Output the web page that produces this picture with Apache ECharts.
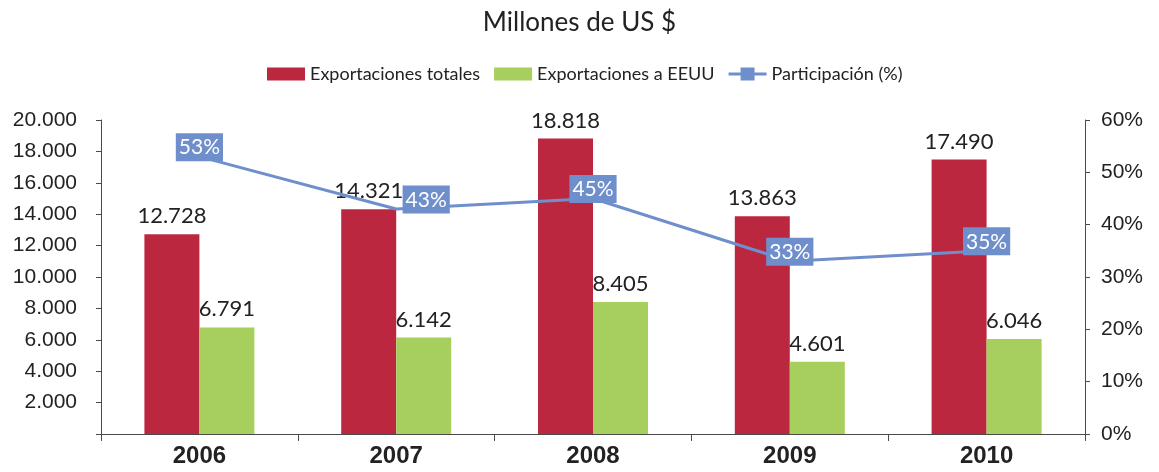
<!DOCTYPE html>
<html>
<head>
<meta charset="utf-8">
<script src="https://cdn.jsdelivr.net/npm/echarts@6/dist/echarts.min.js"></script>
<style>
html,body{margin:0;padding:0;background:#fff;}
#c{width:1159px;height:472px;}
</style>
</head>
<body>
<div id="c"></div>
<script>
const categories = ['2006', '2007', '2008', '2009', '2010'];
const exportTotal = [12728, 14321, 18818, 13863, 17490];
const exportUSA = [6791, 6142, 8405, 4601, 6046];
const participation = [53, 43, 45, 33, 35];
const seriesNames = ['Exportaciones totales', 'Exportaciones a EEUU', 'Participación (%)'];

function dots(v) {
  return String(v).replace(/\B(?=(\d{3})+(?!\d))/g, '.');
}

const chart = echarts.init(document.getElementById('c'));
const lato = 'Lato, "Liberation Sans", sans-serif';
const regular = '"Liberation Sans", Arial, sans-serif';
const axisColor = '#4a4a4a';

// the 2007 share label sits to the right of its point in the reference (clear of the bar label)
const participationData = participation.map(function (v, i) {
  return i === 1 ? { value: v, label: { offset: [30, 5] } } : v;
});

chart.setOption({
  animation: false,
  backgroundColor: '#ffffff',
  title: {
    text: 'Millones de US $',
    left: 'center',
    top: 5,
    textStyle: { fontFamily: lato, fontSize: 26, fontWeight: 'normal', color: '#222' }
  },
  legend: {
    left: 267,
    top: 65,
    padding: 0,
    itemWidth: 38,
    itemHeight: 13,
    itemGap: 14,
    textStyle: { fontFamily: lato, fontSize: 18, color: '#222' },
    data: [
      { name: seriesNames[0], icon: 'rect' },
      { name: seriesNames[1], icon: 'rect' },
      { name: seriesNames[2], icon: 'path://M0,5H38V8H0Z M12,0H26V13H12Z' }
    ]
  },
  grid: { left: 101, right: 74, top: 120, bottom: 38 },
  xAxis: {
    type: 'category',
    data: categories,
    axisLine: { lineStyle: { color: axisColor, width: 1 } },
    axisTick: { show: true, length: 7, lineStyle: { color: axisColor } },
    axisLabel: { fontFamily: regular, fontSize: 24, fontWeight: 'bold', color: '#222', margin: 10 }
  },
  yAxis: [
    {
      type: 'value',
      min: 0, max: 20000, interval: 2000,
      splitLine: { show: false },
      axisLine: { show: true, lineStyle: { color: axisColor } },
      axisTick: { show: true, length: 5, lineStyle: { color: axisColor } },
      axisLabel: {
        fontFamily: regular, fontSize: 21, color: '#222', margin: 24,
        formatter: function (v) { return v === 0 ? '' : dots(v); }
      }
    },
    {
      type: 'value',
      min: 0, max: 60, interval: 10,
      splitLine: { show: false },
      axisLine: { show: true, lineStyle: { color: axisColor } },
      axisTick: { show: true, length: 5, lineStyle: { color: axisColor } },
      axisLabel: { fontFamily: regular, fontSize: 21, color: '#222', margin: 16, formatter: '{value}%' }
    }
  ],
  series: [
    {
      name: seriesNames[0],
      type: 'bar',
      data: exportTotal,
      barWidth: 55,
      barGap: '0%',
      itemStyle: { color: '#BC2740' },
      label: {
        show: true, position: 'top', distance: 7,
        fontFamily: lato, fontSize: 22, color: '#222',
        formatter: function (p) { return dots(p.value); }
      }
    },
    {
      name: seriesNames[1],
      type: 'bar',
      data: exportUSA,
      barWidth: 55,
      barGap: '0%',
      itemStyle: { color: '#A6CF5E' },
      label: {
        show: true, position: 'top', distance: 7,
        fontFamily: lato, fontSize: 22, color: '#222',
        formatter: function (p) { return dots(p.value); }
      }
    },
    {
      name: seriesNames[2],
      type: 'line',
      yAxisIndex: 1,
      data: participationData,
      symbol: 'rect',
      symbolSize: 1,
      lineStyle: { color: '#6F8FCC', width: 3 },
      itemStyle: { color: '#6F8FCC' },
      z: 5,
      label: {
        show: true, position: 'top', distance: 0, offset: [0, 5],
        fontFamily: lato, fontSize: 21, color: '#ffffff',
        backgroundColor: '#6F8FCC', padding: [4, 3, 3, 3],
        formatter: '{c}%'
      }
    }
  ]
});
</script>
</body>
</html>
